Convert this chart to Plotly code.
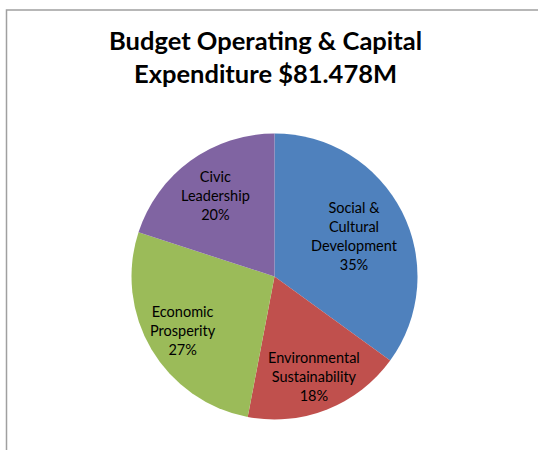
import math
import plotly.graph_objects as go

# Budget breakdown by program area (share of total, %)
categories = [
    "Social &<br>Cultural<br>Development",
    "Environmental<br>Sustainability",
    "Economic<br>Prosperity",
    "Civic<br>Leadership",
]
shares = [35, 18, 27, 20]
colors = ["#4F81BD", "#C0504D", "#9BBB59", "#8064A2"]
title_text = "Budget Operating & Capital<br>Expenditure $81.478M"

# how far out along each slice's mid-angle its label sits (fraction of radius)
label_radius = [0.63, 0.75, 0.74, 0.70]

W, H = 538, 450
cx, cy, r = 274.5, 276.5, 143.0

fig = go.Figure(
    go.Pie(
        labels=categories,
        values=shares,
        sort=False,
        direction="clockwise",
        rotation=0,
        marker=dict(colors=colors, line=dict(width=0)),
        textinfo="none",
        showlegend=False,
        hoverinfo="label+percent",
        domain=dict(
            x=[(cx - r) / W, (cx + r) / W],
            y=[1 - (cy + r) / H, 1 - (cy - r) / H],
        ),
    )
)

# data labels: placed along the mid-angle of each slice (clockwise from 12 o'clock)
total = sum(shares)
annotations = []
cum = 0.0
for name, val, frac in zip(categories, shares, label_radius):
    mid = 2 * math.pi * (cum + val / 2) / total
    cum += val
    px = cx + frac * r * math.sin(mid)
    py = cy - frac * r * math.cos(mid)
    annotations.append(
        dict(
            text=f"{name}<br>{round(100 * val / total)}%",
            x=px / W,
            y=1 - py / H,
            xref="paper",
            yref="paper",
            xanchor="center",
            yanchor="middle",
            showarrow=False,
            align="center",
            font=dict(family="Lato", size=14.5, color="#000000"),
        )
    )

annotations.append(
    dict(
        text="<b>" + title_text + "</b>",
        x=(cx - 9) / W,
        y=1 - 56 / H,
        xref="paper",
        yref="paper",
        xanchor="center",
        yanchor="middle",
        showarrow=False,
        font=dict(family="Lato", size=25.5, color="#000000"),
    )
)

fig.update_layout(
    width=W,
    height=H,
    margin=dict(l=0, r=0, t=0, b=0),
    paper_bgcolor="white",
    plot_bgcolor="white",
    annotations=annotations,
    shapes=[
        dict(
            type="rect",
            xref="paper",
            yref="paper",
            x0=6.5 / W,
            x1=1.05,
            y0=-0.05,
            y1=1 - 10 / H,
            line=dict(color="#A0A0A0", width=1.5),
            fillcolor="rgba(0,0,0,0)",
            layer="below",
        )
    ],
)

fig.write_html("out.html")
